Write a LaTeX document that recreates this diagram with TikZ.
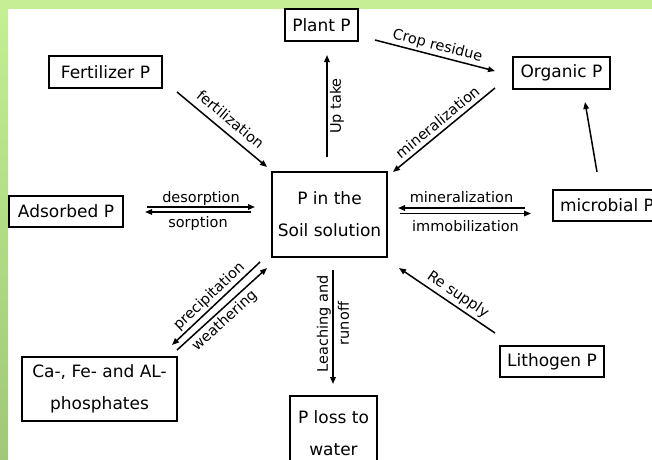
\documentclass[tikz,border=0pt]{standalone}
\usepackage{fontspec}
\setmainfont{DejaVu Sans}
\usetikzlibrary{arrows.meta}
\definecolor{gtop}{HTML}{C4EF94}
\definecolor{gbot}{HTML}{A0C878}
\tikzset{
  box/.style={draw=black, line width=2pt, rectangle, inner sep=0pt, align=center,
    font=\fontsize{17}{32}\selectfont},
  arr/.style={line width=1.5pt, -{Triangle[length=7pt,width=5.5pt]}},
  lbl/.style={font=\fontsize{14.5}{16}\selectfont, inner sep=2pt},
}
\begin{document}
\begin{tikzpicture}[x=1pt,y=-1pt]
\useasboundingbox (0,0) rectangle (652,459);
\clip (0,0) rectangle (652,459);
% green frame
\shade[top color=gtop, bottom color=gbot] (0,0) rectangle (8,459);
\fill[gtop] (0,0) rectangle (652,9);
% boxes
\node[box, minimum width=73pt, minimum height=32pt] (plant) at (321.5,25) {Plant P};
\node[box, minimum width=113pt, minimum height=32pt] (fert) at (105.5,72) {Fertilizer P};
\node[box, minimum width=97pt, minimum height=32pt] (org) at (561.5,73) {Organic P};
\node[box, minimum width=114pt, minimum height=31pt] (ads) at (66,211.5) {Adsorbed P};
\node[box, minimum width=115pt, minimum height=85pt] (soil) at (329.5,214.5) {P in the\\Soil solution};
\node[box, minimum width=112pt, minimum height=31pt, anchor=west] (micro) at (552,205.5) {microbial P\hspace*{4pt}};
\node[box, minimum width=155pt, minimum height=64pt] (caf) at (99.5,389) {Ca-, Fe- and AL-\\phosphates};
\node[box, minimum width=87pt, minimum height=74pt, anchor=north] (loss) at (333.5,395) {P loss to\\water};
\node[box, minimum width=104pt, minimum height=31pt] (litho) at (552,361.5) {Lithogen P};
% coordinates
\coordinate (f1) at (177,92);  \coordinate (f2) at (267,167);
\coordinate (u1) at (327,157); \coordinate (u2) at (327,55);
\coordinate (c1) at (375,40);  \coordinate (c2) at (495,71);
\coordinate (m1) at (495,88);  \coordinate (m2) at (393,172);
\coordinate (o1) at (597,172); \coordinate (o2) at (585,102);
\coordinate (d1) at (147,207); \coordinate (d2) at (255,207);
\coordinate (s1) at (251,212); \coordinate (s2) at (145,212);
\coordinate (r1) at (525,208); \coordinate (r2) at (398,208);
\coordinate (i1) at (400,213.5); \coordinate (i2) at (531,213.5);
\coordinate (p1) at (260,262); \coordinate (p2) at (172,345);
\coordinate (w1) at (177,350); \coordinate (w2) at (267,268);
\coordinate (l1) at (333,270); \coordinate (l2) at (333,384);
\coordinate (e1) at (495,333); \coordinate (e2) at (399,268);
% connectors
\draw[arr] (f1) -- node[lbl, sloped, above=5pt] {fertilization} (f2);
\draw[arr] (u1) -- node[lbl, sloped, below] {Up take} (u2);
\draw[arr] (c1) -- node[lbl, sloped, above] {Crop residue} (c2);
\draw[arr] (m1) -- node[lbl, sloped, above=2pt] {mineralization} (m2);
\draw[arr] (o1) -- (o2);
\draw[arr] (d1) -- node[lbl, above, yshift=-1pt] {desorption} (d2);
\draw[arr] (s1) -- node[lbl, below, yshift=-2pt] {sorption} (s2);
\draw[arr] (r1) -- node[lbl, above, yshift=3pt] {mineralization} (r2);
\draw[arr] (i1) -- node[lbl, below, yshift=-4pt] {immobilization} (i2);
\draw[arr] (p1) -- node[lbl, sloped, above] {precipitation} (p2);
\draw[arr] (w1) -- node[lbl, sloped, below=1pt, pos=0.45] {weathering} (w2);
\draw[arr] (l1) -- node[lbl, rotate=90, align=center, font=\fontsize{14.5}{21}\selectfont, pos=0.47] {Leaching and\\runoff} (l2);
\draw[arr] (e1) -- node[lbl, sloped, above=1pt, pos=0.45] {Re supply} (e2);
\end{tikzpicture}
\end{document}
